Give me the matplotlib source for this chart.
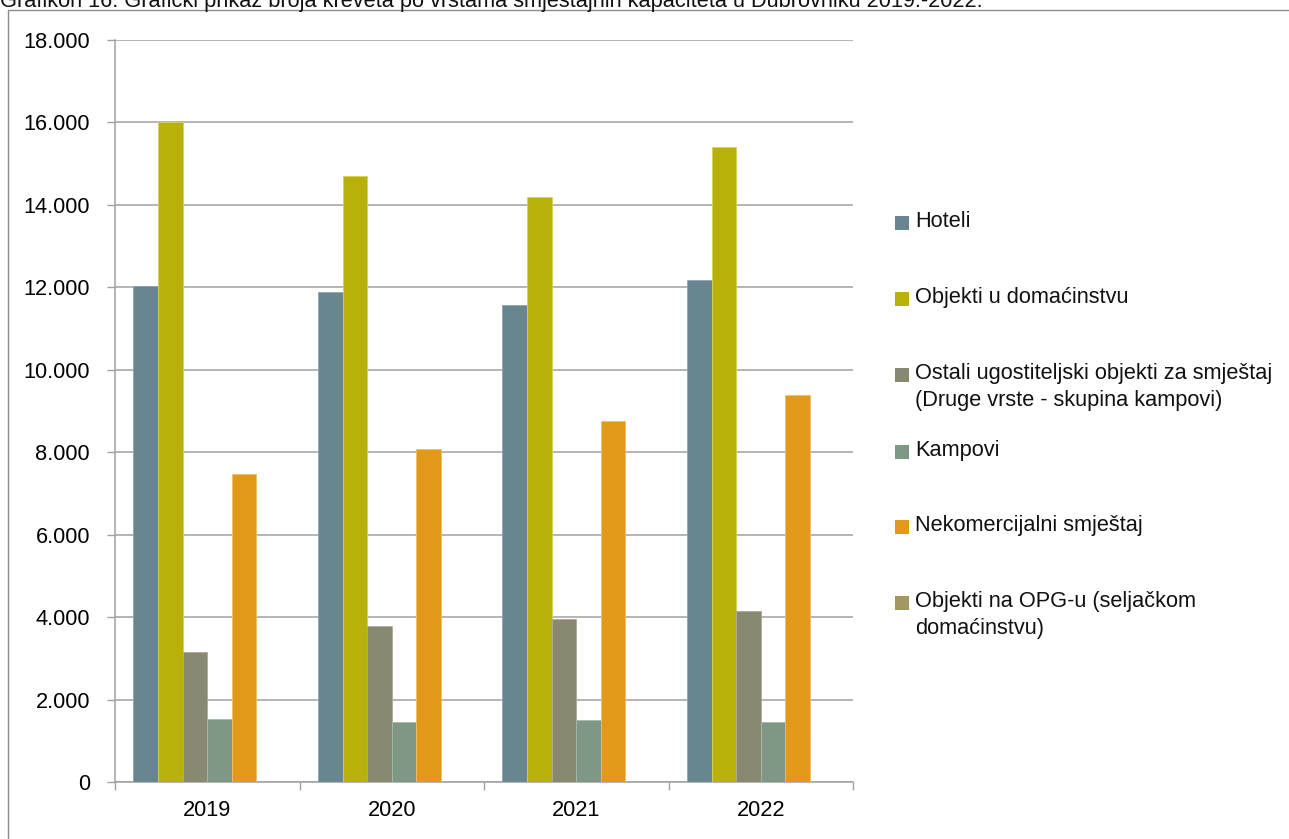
from __future__ import annotations

import matplotlib

matplotlib.use("Agg")
import matplotlib.pyplot as plt
import numpy as np
from matplotlib.patches import Rectangle
from matplotlib.ticker import FuncFormatter, MultipleLocator


TITLE = (
    "Grafikon 16. Grafički prikaz broja kreveta po vrstama smještajnih "
    "kapaciteta u Dubrovniku 2019.-2022."
)
YEARS = ["2019", "2020", "2021", "2022"]

SERIES = [
    "Hoteli",
    "Objekti u domaćinstvu",
    "Ostali ugostiteljski objekti za smještaj\n(Druge vrste - skupina kampovi)",
    "Kampovi",
    "Nekomercijalni smještaj",
    "Objekti na OPG-u (seljačkom\ndomaćinstvu)",
]

hoteli = [12040, 11880, 11570, 12190]
domacinstvo = [16000, 14690, 14190, 15410]
ostali = [3150, 3780, 3950, 4160]
kampovi = [1540, 1450, 1500, 1450]
nekomercijalni = [7480, 8080, 8760, 9380]
opg = [0, 0, 0, 0]

COLORS = ["#67868F", "#B8B10A", "#898871", "#7F9886", "#E2991A", "#A39862"]
EDGES = ["#8FA6AD", "#D6D05A", "#ABAA98", "#A6B8AB", "#F0BE6A", "#C2B98C"]

FONT_SIZE = 15.7


def set_style() -> None:
    plt.rcParams.update(
        {
            "font.family": ["Liberation Sans", "DejaVu Sans"],
            "font.size": FONT_SIZE,
            "xtick.labelsize": FONT_SIZE,
            "ytick.labelsize": FONT_SIZE,
        }
    )


def thousands(v, _pos) -> str:
    return f"{int(round(v)):,}".replace(",", ".")


def draw_legend(fig) -> None:
    # hand-placed legend: swatch sits next to the first line of each label
    px_w, px_h = fig.get_size_inches() * fig.dpi
    tops = [223, 299, 375, 452, 527, 603]
    for label, color, yc in zip(SERIES, COLORS, tops):
        fig.patches.append(
            Rectangle(
                (895 / px_w, 1 - (yc + 7) / px_h),
                14 / px_w,
                14 / px_h,
                transform=fig.transFigure,
                facecolor=color,
                edgecolor="none",
            )
        )
        fig.text(
            915 / px_w,
            1 - (yc - 12) / px_h,
            label,
            ha="left",
            va="top",
            fontsize=FONT_SIZE,
            linespacing=1.38,
            color="#111111",
        )


def plot_beds() -> None:
    values = [hoteli, domacinstvo, ostali, kampovi, nekomercijalni, opg]
    fig = plt.figure(figsize=(12.89, 8.39), dpi=100)
    ax = fig.add_axes([115 / 1289, 1 - 782 / 839, (853 - 115) / 1289, (782 - 40) / 839])

    x = np.arange(len(YEARS))
    width = 1 / 7.5
    for i, (vals, color, edge) in enumerate(zip(values, COLORS, EDGES)):
        offset = (i - 2.5) * width
        ax.bar(x + offset, vals, width, color=color, edgecolor=edge, linewidth=0.6, zorder=3)

    ax.set_xlim(-0.5, len(YEARS) - 0.5)
    ax.set_ylim(0, 18000)
    ax.yaxis.set_major_locator(MultipleLocator(2000))
    ax.yaxis.set_major_formatter(FuncFormatter(thousands))
    ax.grid(axis="y", color="#A0A0A0", linewidth=1.1, zorder=0)

    ax.set_xticks(x)
    ax.set_xticklabels(YEARS)
    ax.set_xticks(np.arange(len(YEARS) + 1) - 0.5, minor=True)
    ax.tick_params(axis="x", which="major", length=0, pad=13)
    ax.tick_params(axis="x", which="minor", length=6, width=1.0, color="#A0A0A0", direction="out")
    ax.tick_params(axis="y", length=6, width=1.0, color="#A0A0A0", pad=12)

    for side in ("top", "right"):
        ax.spines[side].set_visible(False)
    for side in ("left", "bottom"):
        ax.spines[side].set_color("#A0A0A0")
        ax.spines[side].set_linewidth(1.1)

    # outer frame, cut by the canvas on the right and bottom
    fig.patches.append(
        Rectangle(
            (8 / 1289, -0.1),
            1.2,
            1.1 - 10 / 839,
            transform=fig.transFigure,
            facecolor="none",
            edgecolor="#8C8C8C",
            linewidth=1.0,
        )
    )
    fig.text(0.0, 1 - 6.5 / 839, TITLE, ha="left", va="baseline", fontsize=FONT_SIZE, color="#111111")

    draw_legend(fig)
    fig.savefig("out.png", dpi=100)
    plt.close(fig)


def main() -> None:
    set_style()
    plot_beds()


if __name__ == "__main__":
    main()
